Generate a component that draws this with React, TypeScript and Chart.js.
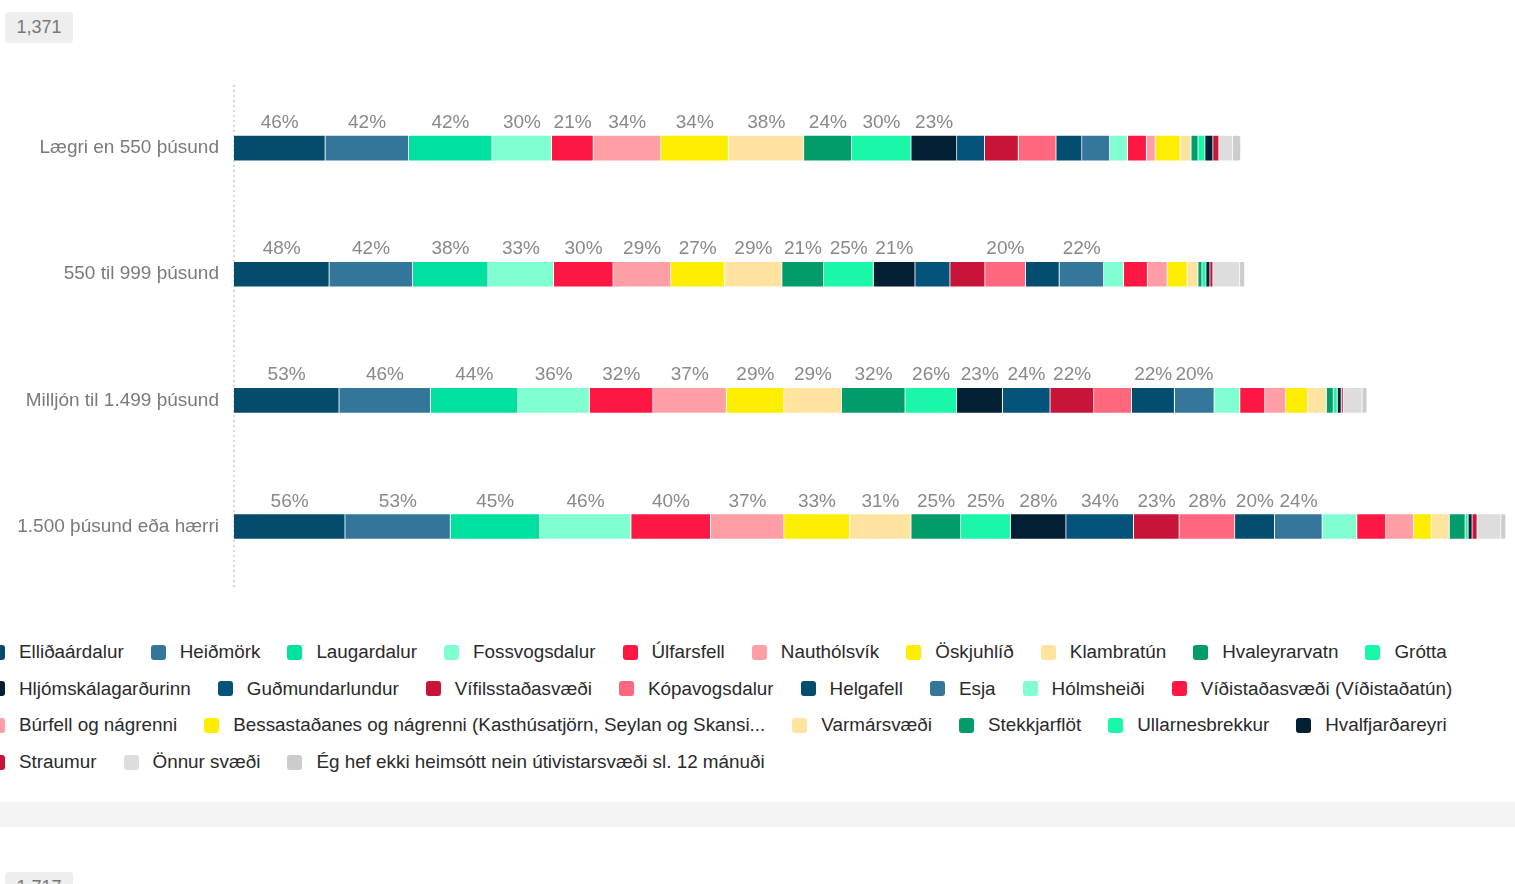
import React, { useEffect, useRef } from "react";
import { Chart, registerables } from "chart.js";

Chart.register(...registerables);

const FONT = '"Liberation Sans", Arial, Helvetica, sans-serif';

const categories = [
  "Lægri en 550 þúsund",
  "550 til 999 þúsund",
  "Milljón til 1.499 þúsund",
  "1.500 þúsund eða hærri",
];

const seriesNames = [
  "Elliðaárdalur",
  "Heiðmörk",
  "Laugardalur",
  "Fossvogsdalur",
  "Úlfarsfell",
  "Nauthólsvík",
  "Öskjuhlíð",
  "Klambratún",
  "Hvaleyrarvatn",
  "Grótta",
  "Hljómskálagarðurinn",
  "Guðmundarlundur",
  "Vífilsstaðasvæði",
  "Kópavogsdalur",
  "Helgafell",
  "Esja",
  "Hólmsheiði",
  "Víðistaðasvæði (Víðistaðatún)",
  "Búrfell og nágrenni",
  "Bessastaðanes og nágrenni (Kasthúsatjörn, Seylan og Skansi...",
  "Varmársvæði",
  "Stekkjarflöt",
  "Ullarnesbrekkur",
  "Hvalfjarðareyri",
  "Straumur",
  "Önnur svæði",
  "Ég hef ekki heimsótt nein útivistarsvæði sl. 12 mánuði",
];

const seriesColors = [
  "#044c6c",
  "#347699",
  "#00e09e",
  "#80ffd0",
  "#ff1744",
  "#ff9ea4",
  "#fded00",
  "#ffe39e",
  "#029c6b",
  "#1af7a8",
  "#021f33",
  "#05527a",
  "#c91439",
  "#ff677f",
  "#034e6e",
  "#34779a",
  "#82ffd0",
  "#ff1744",
  "#ff9fa5",
  "#fded00",
  "#ffe49f",
  "#029c6b",
  "#1af7a8",
  "#021f33",
  "#c91439",
  "#dddddd",
  "#cccccc",
];

// values (%) per income group, in category order
const ellidaardalur = [46, 48, 53, 56];
const heidmork = [42, 42, 46, 53];
const laugardalur = [42, 38, 44, 45];
const fossvogsdalur = [30, 33, 36, 46];
const ulfarsfell = [21, 30, 32, 40];
const nautholsvik = [34, 29, 37, 37];
const oskjuhlid = [34, 27, 29, 33];
const klambratun = [38, 29, 29, 31];
const hvaleyrarvatn = [24, 21, 32, 25];
const grotta = [30, 25, 26, 25];
const hljomskalagardurinn = [23, 21, 23, 28];
const gudmundarlundur = [14, 17.6, 24, 34];
const vifilsstadasvaedi = [17, 17.6, 22, 23];
const kopavogsdalur = [19, 20.4, 19, 28];
const helgafell = [13, 17, 21.6, 20];
const esja = [14, 22.4, 20, 24];
const holmsheidi = [9, 10, 13, 17.5];
const vidistadasvaedi = [9.5, 12, 12.5, 14.5];
const burfell = [4.5, 10, 10.5, 14];
const bessastadanes = [12.5, 10, 11, 9];
const varmarsvaedi = [5.5, 5.5, 9.5, 9];
const stekkjarflot = [3.5, 2, 3.5, 8];
const ullarnesbrekkur = [3.5, 2, 2, 1.5];
const hvalfjardareyri = [4, 2, 2, 2];
const straumur = [3, 1.5, 1, 2.5];
const onnurSvaedi = [7, 13.5, 9.5, 12];
const egHefEkki = [4, 2.5, 2.5, 2.5];

const seriesValues = [
  ellidaardalur,
  heidmork,
  laugardalur,
  fossvogsdalur,
  ulfarsfell,
  nautholsvik,
  oskjuhlid,
  klambratun,
  hvaleyrarvatn,
  grotta,
  hljomskalagardurinn,
  gudmundarlundur,
  vifilsstadasvaedi,
  kopavogsdalur,
  helgafell,
  esja,
  holmsheidi,
  vidistadasvaedi,
  burfell,
  bessastadanes,
  varmarsvaedi,
  stekkjarflot,
  ullarnesbrekkur,
  hvalfjardareyri,
  straumur,
  onnurSvaedi,
  egHefEkki,
];

const respondentCounts = ["1,371", "1,717"];

// dotted zero line along the start of the bars
const zeroLine = {
  id: "zeroLine",
  beforeDatasetsDraw(chart: any) {
    const { ctx, chartArea } = chart;
    const x = Math.round(chart.scales.x.getPixelForValue(0));
    ctx.save();
    ctx.strokeStyle = "#d6d6d6";
    ctx.lineWidth = 2;
    ctx.setLineDash([2, 3]);
    ctx.beginPath();
    ctx.moveTo(x, chartArea.top);
    ctx.lineTo(x, chartArea.bottom);
    ctx.stroke();
    ctx.restore();
  },
};

const segmentLabels = {
  id: "segmentLabels",
  afterDatasetsDraw(chart: any) {
    const ctx = chart.ctx;
    ctx.save();
    ctx.font = `19px ${FONT}`;
    ctx.fillStyle = "#898989";
    ctx.textAlign = "center";
    ctx.textBaseline = "alphabetic";
    chart.data.datasets.forEach((ds: any, di: number) => {
      const meta = chart.getDatasetMeta(di);
      meta.data.forEach((el: any, i: number) => {
        const v = ds.data[i];
        const r = Math.round(v);
        if (r < 20) return;
        const p = el.getProps(["x", "y", "base", "height"], true);
        ctx.fillText(r + "%", (p.x + p.base) / 2, p.y - p.height / 2 - 7);
      });
    });
    ctx.restore();
  },
};

function BarChart() {
  const ref = useRef<HTMLCanvasElement | null>(null);
  useEffect(() => {
    if (!ref.current) return;
    const last = seriesNames.length - 1;
    const chart = new Chart(ref.current, {
      type: "bar",
      data: {
        labels: categories,
        datasets: seriesNames.map((name, i) => ({
          label: name,
          data: seriesValues[i],
          backgroundColor: seriesColors[i],
          borderColor: "rgba(255,255,255,0.85)",
          borderWidth: 1,
          barThickness: 26,
          borderRadius: i === last ? { topRight: 3, bottomRight: 3, topLeft: 0, bottomLeft: 0 } : 0,
          borderSkipped: "start",
        })),
      },
      options: {
        indexAxis: "y",
        responsive: false,
        animation: false,
        events: [],
        layout: { padding: { top: 85, bottom: 10, left: 0, right: 0 } },
        plugins: {
          legend: { display: false },
          tooltip: { enabled: false },
        },
        scales: {
          x: { stacked: true, display: false, min: 0, max: 645 },
          y: {
            stacked: true,
            grid: { display: false, drawTicks: false },
            border: { display: false },
            ticks: { color: "#7a7a7a", font: { size: 19, family: FONT }, padding: 15 },
            afterFit: (s: any) => {
              s.width = 234;
            },
          },
        },
      },
      plugins: [zeroLine, segmentLabels],
    } as any);
    return () => chart.destroy();
  }, []);
  return (
    <canvas
      ref={ref}
      width={1515}
      height={616}
      style={{ position: "absolute", left: 0, top: 0, width: 1515, height: 616 }}
    />
  );
}

const badgeStyle = (top: number): React.CSSProperties => ({
  position: "absolute",
  left: 5,
  top,
  width: 68,
  height: 31,
  background: "#eeeeee",
  borderRadius: 4,
  color: "#777",
  fontSize: 18,
  lineHeight: "31px",
  textAlign: "center",
  zIndex: 2,
});

export default function App() {
  return (
    <div
      style={{
        position: "absolute",
        left: 0,
        top: 0,
        width: 1515,
        height: 884,
        overflow: "hidden",
        background: "#fff",
        fontFamily: FONT,
      }}
    >
      <div style={badgeStyle(12)}>{respondentCounts[0]}</div>
      <BarChart />
      <div
        style={{
          position: "absolute",
          left: -10,
          top: 641,
          width: 1500,
          display: "flex",
          flexWrap: "wrap",
          columnGap: 27,
          rowGap: 14.7,
        }}
      >
        {seriesNames.map((n, i) => (
          <div key={i} style={{ display: "flex", alignItems: "center", height: 22, whiteSpace: "nowrap" }}>
            <span
              style={{
                display: "inline-block",
                width: 15,
                height: 15,
                borderRadius: 3,
                background: seriesColors[i],
                marginRight: 14,
              }}
            />
            <span style={{ fontSize: 18.85, color: "#2a2a2a", lineHeight: "22px" }}>{n}</span>
          </div>
        ))}
      </div>
      <div style={{ position: "absolute", left: 0, top: 802, width: 1515, height: 25, background: "#f4f4f4" }} />
      <div style={badgeStyle(872)}>{respondentCounts[1]}</div>
    </div>
  );
}
